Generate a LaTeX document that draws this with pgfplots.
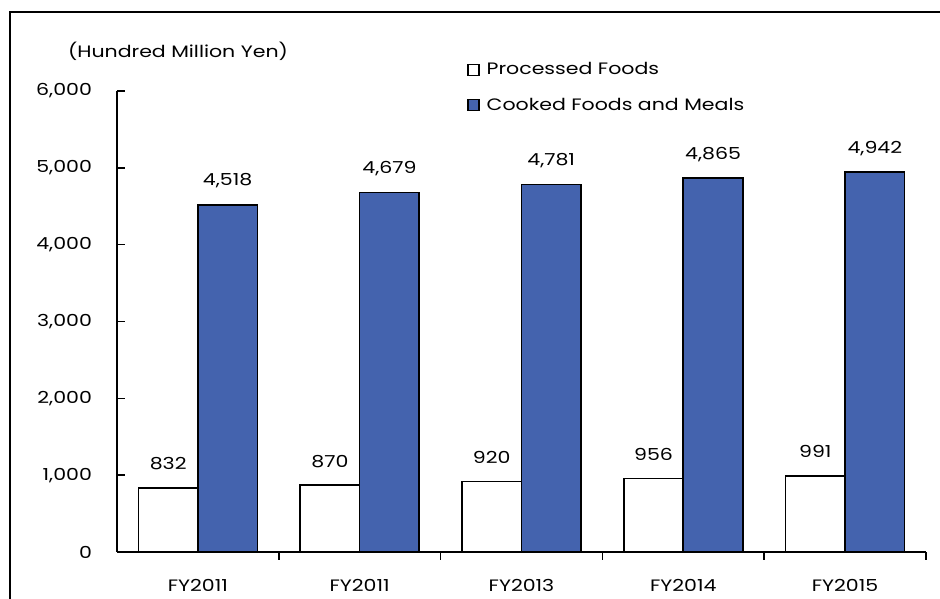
\documentclass[border=0pt]{standalone}
\usepackage{pgfplots}
\pgfplotsset{compat=1.18}
\usepackage{fontspec}
\setmainfont{Poppins}[FakeStretch=1.24]
\definecolor{barblue}{RGB}{68,99,174}
\begin{document}
\fontsize{12.4pt}{14.8pt}\selectfont
\begin{tikzpicture}
\begin{axis}[
  at={(87.75pt,35.25pt)}, anchor=south west,
  scale only axis, width=606.75pt, height=345.75pt,
  xmin=-0.5, xmax=4.5, ymin=0, ymax=6000,
  axis x line=bottom, axis y line=left,
  axis line style={-, line width=1.2pt, black},
  /pgf/number format/assume math mode=true,
  /pgf/number format/.cd, 1000 sep={,}, /pgfplots/.cd,
  ytick={0,1000,...,6000},
  xtick={0.5,1.5,2.5,3.5,4.5}, xticklabels={},
  extra x ticks={0,1,2,3,4},
  extra x tick labels={FY2011,FY2011,FY2013,FY2014,FY2015},
  extra x tick style={major tick length=0pt},
  tick align=inside, major tick length=6pt,
  tick style={line width=1.2pt, black},
  xticklabel style={yshift=-16pt},
  yticklabel style={xshift=-14.5pt},
  ybar=0pt, bar width=44.6pt,
  nodes near coords,
  every node near coord/.append style={anchor=center, yshift=18pt, black},
  legend style={at={(rel axis cs:0.4326,1.064)}, anchor=north west, draw=none, fill=none,
    row sep=14.5pt, inner sep=0pt, legend cell align=left,
    nodes={inner sep=0.5pt}},
  clip=false,
]
\addplot[fill=white, draw=black, line width=1.2pt,
  legend image code/.code={\draw[fill=white, draw=black, line width=1pt] (0pt,-4.2pt) rectangle (8.4pt,4.2pt); \path (13pt,0pt);}]
  coordinates {(0,832) (1,870) (2,920) (3,956) (4,991)};
\addplot[fill=barblue, draw=black, line width=1.2pt,
  legend image code/.code={\draw[fill=barblue, draw=black, line width=1pt] (0pt,-4.2pt) rectangle (8.4pt,4.2pt); \path (13pt,0pt);}]
  coordinates {(0,4518) (1,4679) (2,4781) (3,4865) (4,4942)};
\legend{Processed Foods, Cooked Foods and Meals}
\node at (rel axis cs:0.0754,1.0868) {(Hundred Million Yen)};
\end{axis}
\draw[line width=1pt] (7.5pt,-20pt) rectangle (730pt,440.25pt);
\pgfresetboundingbox
\path (0,0) rectangle (705pt,449.25pt);
\end{tikzpicture}
\end{document}
